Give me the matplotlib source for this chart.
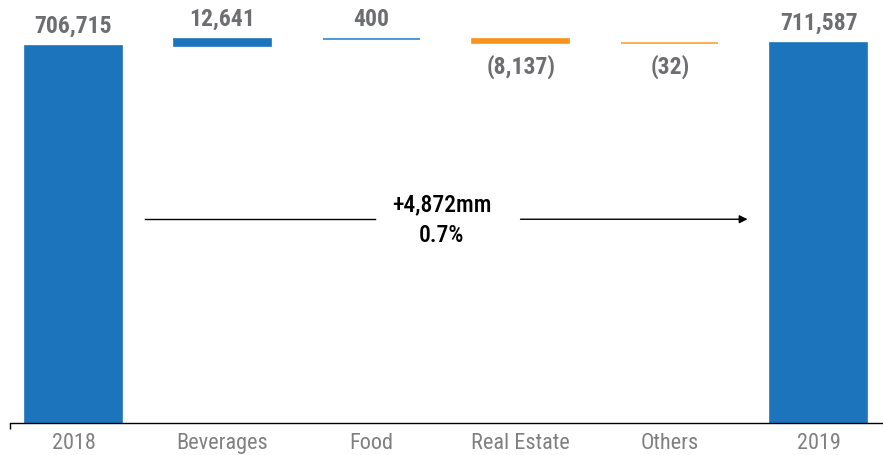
import matplotlib.pyplot as plt
import numpy as np

# dane
kategorie = ['2018', 'Beverages', 'Food', 'Real Estate', 'Others', '2019']
wartosci = [706715, 12641, 400, -8137, -32, 711587]
kolory = ['#1c75bc', '#1c75bc', '#2b88d8', '#f7941d', '#f9a23a', '#1c75bc']
zmiana_txt = '+4,872mm'
zmiana_pct = '0.7%'

plt.rcParams['font.family'] = ['Roboto Condensed', 'DejaVu Sans']

fig = plt.figure(figsize=(8.83, 4.55), dpi=100)
ax = fig.add_axes([0.0113, 0.0703, 0.9887, 0.9297])

x = np.arange(len(kategorie))
dolne = []
wysokosci = []
suma = 0
for i, v in enumerate(wartosci):
    if i == 0 or i == len(wartosci) - 1:
        dolne.append(0)
        wysokosci.append(v)
        suma = v
    else:
        if v >= 0:
            dolne.append(suma)
        else:
            dolne.append(suma + v)
        wysokosci.append(abs(v))
        suma += v

ax.bar(x, wysokosci, bottom=dolne, width=0.65, color=kolory,
       edgecolor=kolory, linewidth=1.2)

for i, v in enumerate(wartosci):
    if v < 0:
        txt = '({:,})'.format(-v)
        ax.annotate(txt, xy=(x[i], dolne[i]), xytext=(0, -8), textcoords='offset points',
                    ha='center', va='top', fontsize=17, fontweight='bold', color='#6d6e71')
    else:
        txt = '{:,}'.format(v)
        ax.annotate(txt, xy=(x[i], dolne[i] + wysokosci[i]), xytext=(0, 6), textcoords='offset points',
                    ha='center', va='bottom', fontsize=17, fontweight='bold', color='#6d6e71')

# strzalka ze zmiana
y_str = 382000
ax.plot([0.48, 2.02], [y_str, y_str], color='black', lw=1)
ax.annotate('', xy=(4.54, y_str), xytext=(2.98, y_str),
            arrowprops=dict(arrowstyle='-|>', color='black', lw=1, mutation_scale=12))
ax.text(2.47, y_str + 6000, zmiana_txt, ha='center', va='bottom', fontsize=17,
        fontweight=500, color='black')
ax.text(2.47, y_str - 8000, zmiana_pct, ha='center', va='top', fontsize=17,
        fontweight=500, color='black')

ax.set_xlim(-0.426, 5.43)
ax.set_ylim(0, 793000)
ax.set_xticks(x)
ax.set_xticklabels(kategorie, fontsize=16, color='#808080')
ax.tick_params(axis='x', which='major', length=0, pad=7)
ax.set_xticks([-0.426], minor=True)
ax.tick_params(axis='x', which='minor', length=4, width=1, color='black')
ax.set_yticks([])
for s in ['top', 'right', 'left']:
    ax.spines[s].set_visible(False)
ax.spines['bottom'].set_color('black')
ax.spines['bottom'].set_linewidth(1)

plt.savefig('out.png', dpi=100)
